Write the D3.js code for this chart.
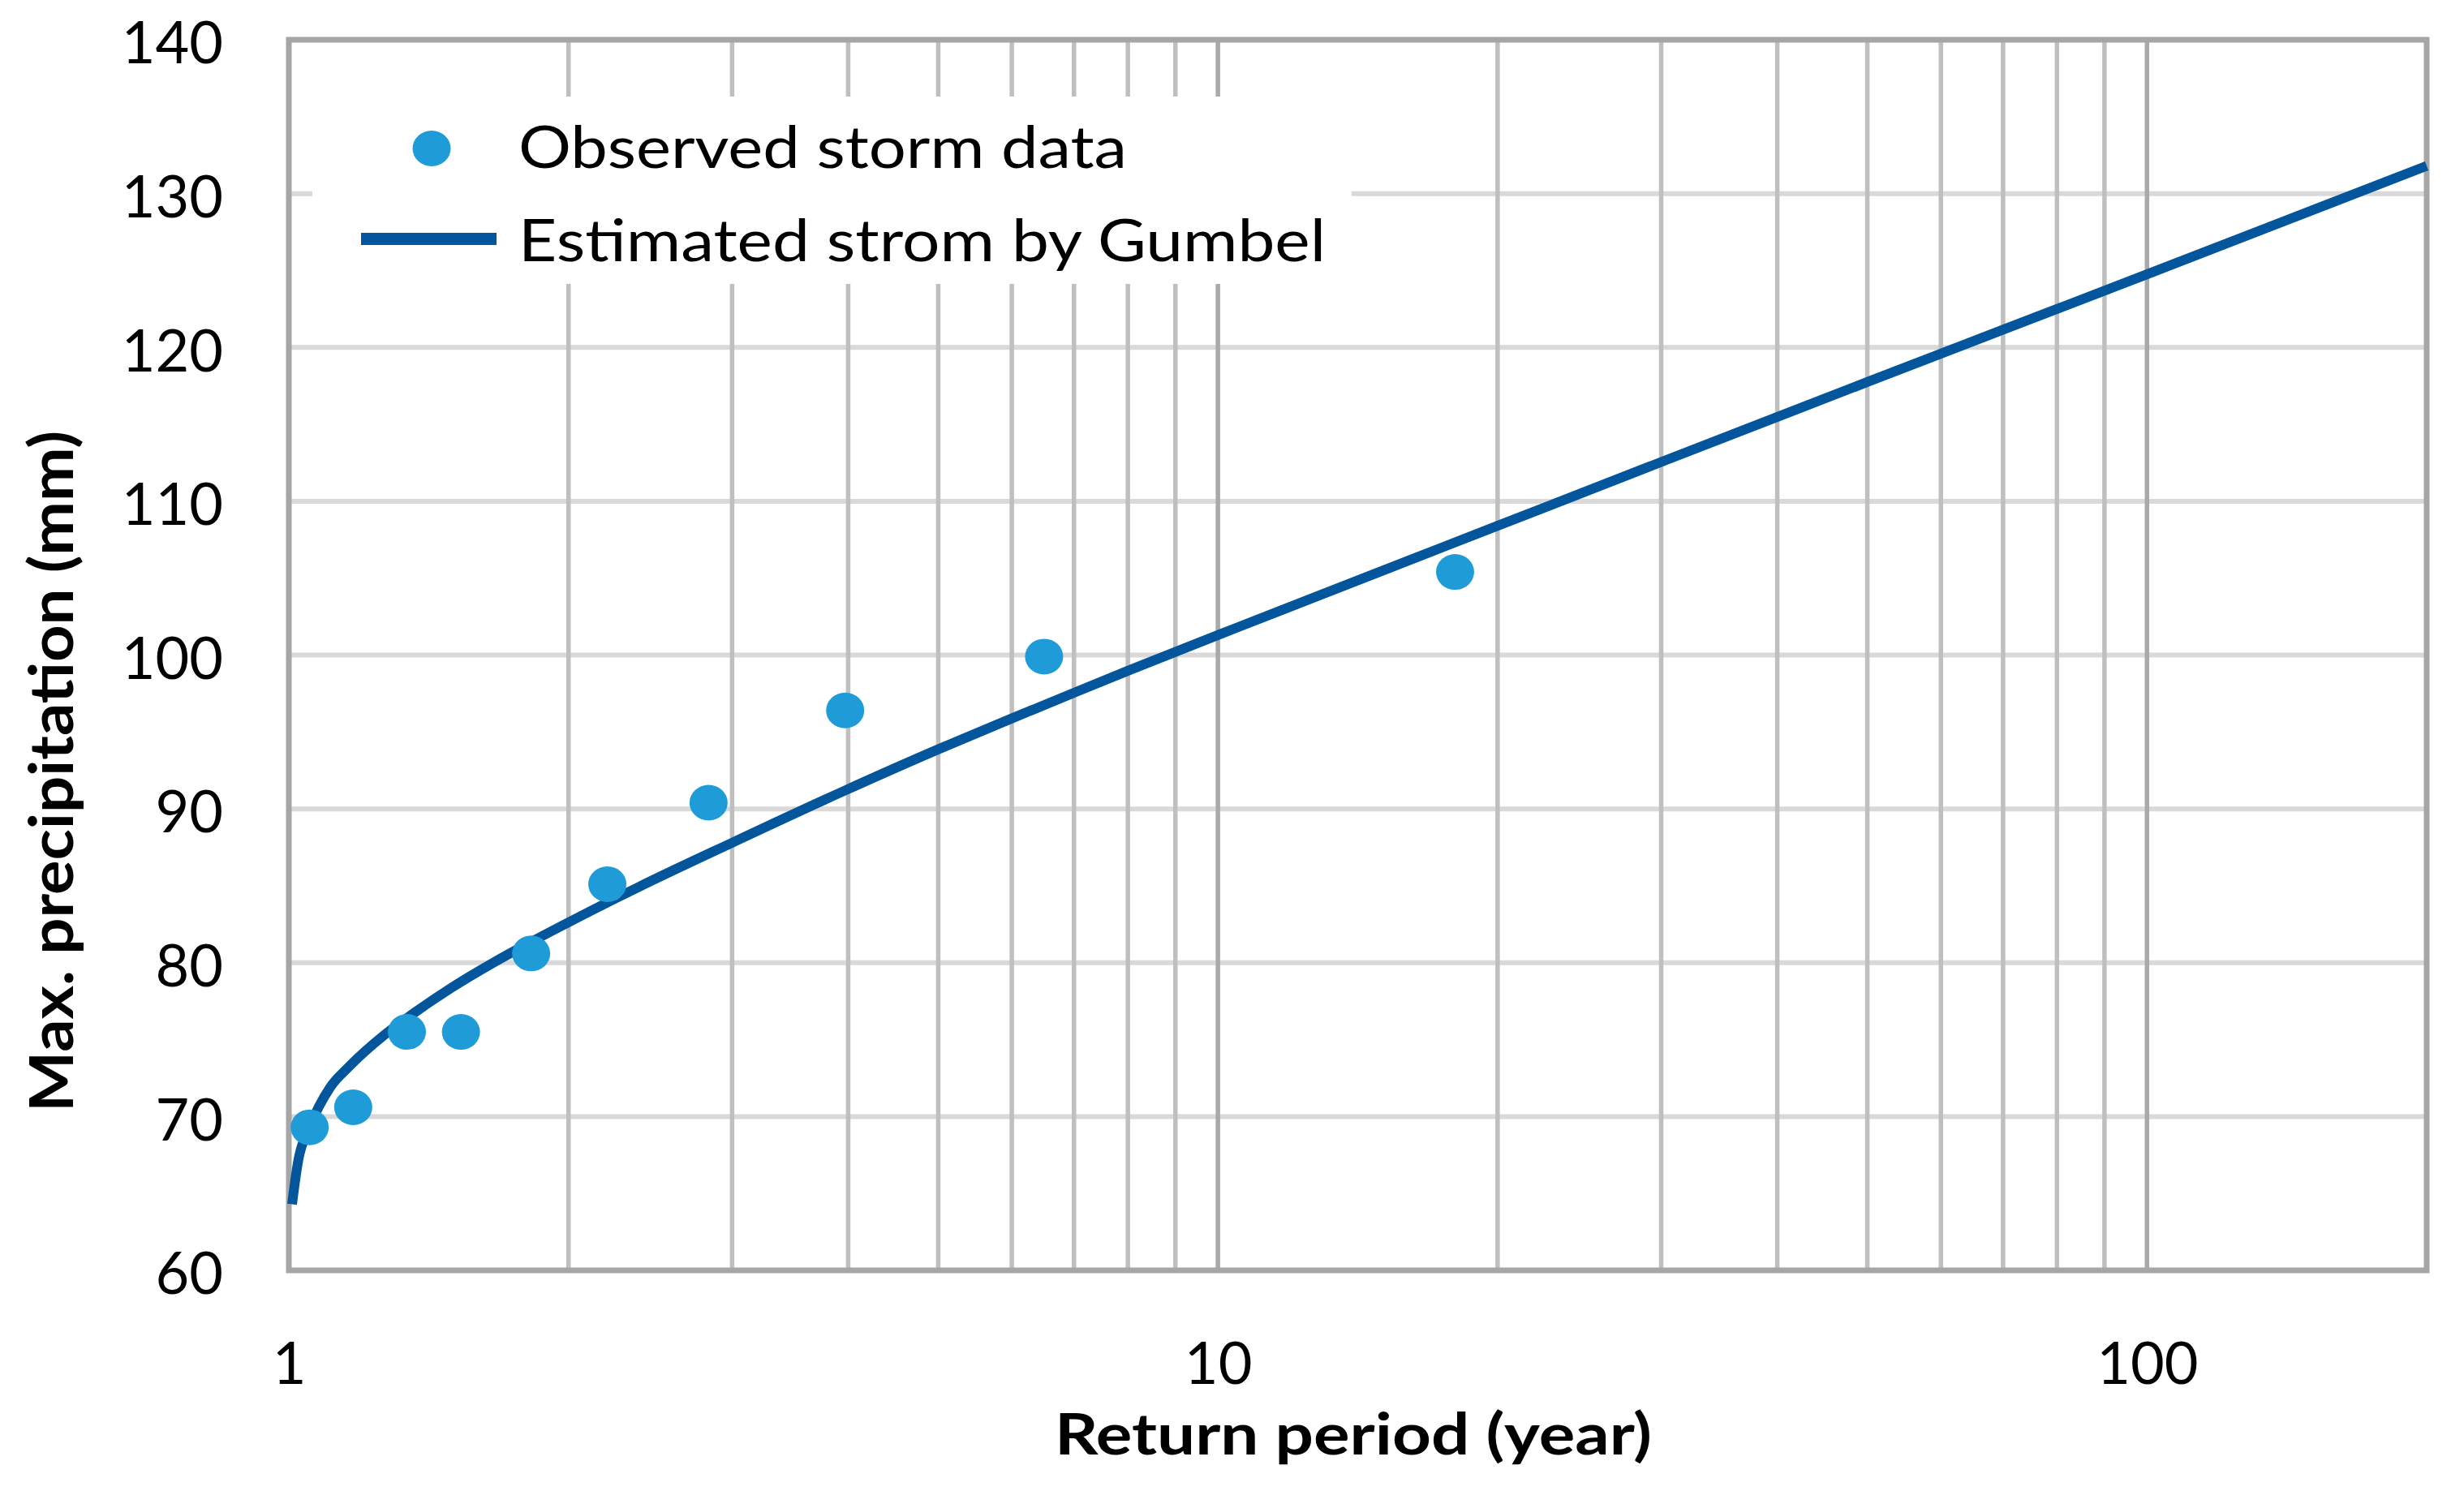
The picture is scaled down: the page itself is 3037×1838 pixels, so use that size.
<!DOCTYPE html>
<html>
<head>
<meta charset="utf-8">
<script src="https://cdn.jsdelivr.net/npm/d3@7"></script>
<style>
  html, body { margin: 0; padding: 0; background: #fff; }
  svg { display: block; }
  text { font-family: "Lato", "Open Sans", sans-serif; fill: #000; }
</style>
</head>
<body>
<svg id="chart" width="3037" height="1838"></svg>
<script>
// ---- data ----
const obsReturnPeriod = [1.053, 1.173, 1.340, 1.532, 1.823, 2.202, 2.83, 3.97, 6.5, 18.0];
const obsPrecip       = [69.3, 70.6, 75.5, 75.5, 80.6, 85.1, 90.4, 96.4, 99.9, 105.4];

const gumbelReturnPeriod = [1.008, 1.022, 1.053, 1.108, 1.159, 1.267, 1.34, 1.49, 1.66, 1.823, 2.004, 2.376, 3, 3.97, 4.99, 6, 7, 8, 10, 20, 30, 50, 70, 100, 200];
const gumbelPrecip       = [64.3, 66.9, 69.3, 71.9, 73.2, 75.3, 76.4, 78.3, 80.0, 81.35, 82.65, 84.9, 87.8, 91.2, 93.85, 95.88, 97.55, 98.98, 101.3, 108.4, 112.55, 117.75, 121.15, 124.75, 131.8];

const yTickValues = [60, 70, 80, 90, 100, 110, 120, 130, 140];
const xTickLabels = [1, 10, 100];
const seriesNames = ["Observed storm data", "Estimated strom by Gumbel"];
const xTitle = "Return period (year)";
const yTitle = "Max. precipitation (mm)";

// ---- layout ----
const L = 356, R = 2991, T = 49, B = 1566;
const dotColor = "#1f9cd8", lineColor = "#03569c";

const svg = d3.select("#chart");
svg.append("rect").attr("width", 3037).attr("height", 1838).attr("fill", "#fff");

const x = d3.scaleLog().domain([1, 200]).range([L, R]);
const y = d3.scaleLinear().domain([60, 140]).range([B, T]);

// horizontal gridlines
svg.append("g").selectAll("line").data(yTickValues).join("line")
  .attr("x1", L).attr("x2", R)
  .attr("y1", d => y(d)).attr("y2", d => y(d))
  .attr("stroke", "#d9d9d9").attr("stroke-width", 6);

// vertical gridlines
const isMajor = d => Math.abs(Math.log10(d) - Math.round(Math.log10(d))) < 1e-9;
svg.append("g").selectAll("line").data(x.ticks()).join("line")
  .attr("x1", d => x(d)).attr("x2", d => x(d))
  .attr("y1", T).attr("y2", B)
  .attr("stroke", d => isMajor(d) ? "#a9a9a9" : "#bfbfbf")
  .attr("stroke-width", 5.5);

// frame
svg.append("rect").attr("x", L).attr("y", T).attr("width", R - L).attr("height", B - T)
  .attr("fill", "none").attr("stroke", "#a6a6a6").attr("stroke-width", 7);

// legend background box
svg.append("rect").attr("x", 385).attr("y", 119).attr("width", 1281).attr("height", 231).attr("fill", "#fff");

// axes (labels only)
const yAxis = d3.axisLeft(y).tickValues(yTickValues).tickSize(0).tickPadding(81);
const gy = svg.append("g").attr("transform", `translate(${L},0)`).call(yAxis);
gy.select(".domain").remove();
gy.selectAll("text").attr("font-size", 72).attr("font-family", "Lato").attr("fill", "#000").attr("dy", "0.4em");

const xAxis = d3.axisBottom(x).tickValues(xTickLabels).tickFormat(d3.format("d")).tickSize(0).tickPadding(89);
const gx = svg.append("g").attr("transform", `translate(0,${B})`).call(xAxis);
gx.select(".domain").remove();
gx.selectAll("text").attr("font-size", 72).attr("font-family", "Lato").attr("fill", "#000");

// Gumbel curve
const curveData = gumbelReturnPeriod.map((t, i) => ({ t, p: gumbelPrecip[i] }));
const line = d3.line().x(d => x(d.t)).y(d => y(d.p)).curve(d3.curveMonotoneX);
svg.append("path").datum(curveData).attr("d", line)
  .attr("fill", "none").attr("stroke", lineColor).attr("stroke-width", 12);

// observed points
const obsData = obsReturnPeriod.map((t, i) => ({ t, p: obsPrecip[i] }));
svg.append("g").selectAll("ellipse").data(obsData).join("ellipse")
  .attr("cx", d => x(d.t)).attr("cy", d => y(d.p))
  .attr("rx", 23.5).attr("ry", 22).attr("fill", dotColor);

// legend
svg.append("ellipse").attr("cx", 532).attr("cy", 183).attr("rx", 23.5).attr("ry", 22).attr("fill", dotColor);
svg.append("line").attr("x1", 445).attr("x2", 612).attr("y1", 294.5).attr("y2", 294.5)
  .attr("stroke", lineColor).attr("stroke-width", 15);
svg.append("text").attr("x", 639).attr("y", 207).attr("font-size", 72)
  .attr("textLength", 750).attr("lengthAdjust", "spacingAndGlyphs").text(seriesNames[0]);
svg.append("text").attr("x", 639).attr("y", 322).attr("font-size", 72)
  .attr("textLength", 995).attr("lengthAdjust", "spacingAndGlyphs").text(seriesNames[1]);

// axis titles
svg.append("text").attr("x", 1668).attr("y", 1793).attr("text-anchor", "middle")
  .attr("font-size", 70).attr("font-weight", "bold")
  .attr("textLength", 736).attr("lengthAdjust", "spacingAndGlyphs").text(xTitle);
svg.append("text").attr("transform", "translate(90,951) rotate(-90)").attr("text-anchor", "middle")
  .attr("font-size", 74).attr("font-weight", "bold")
  .attr("textLength", 840).attr("lengthAdjust", "spacingAndGlyphs").text(yTitle);
</script>
</body>
</html>
